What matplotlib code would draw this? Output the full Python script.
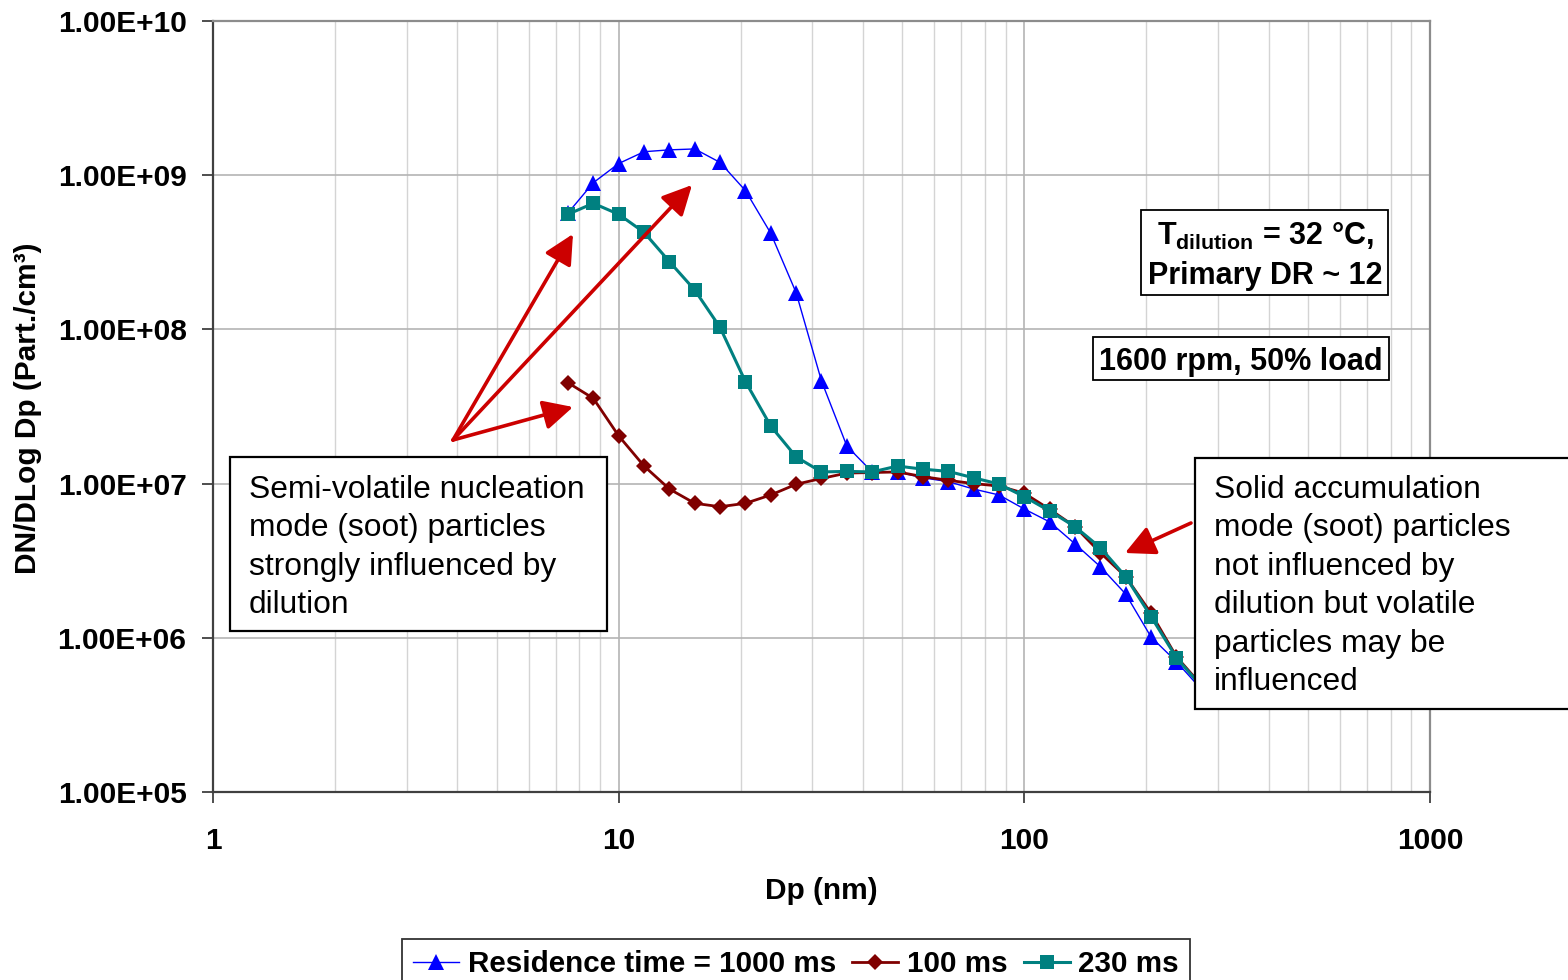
import matplotlib
matplotlib.use("Agg")
import matplotlib.pyplot as plt
from matplotlib.patches import Rectangle
from matplotlib.ticker import FuncFormatter, FixedLocator, NullLocator, LogLocator
from matplotlib.lines import Line2D

plt.rcParams['font.family'] = ['Liberation Sans', 'DejaVu Sans']
plt.rcParams['mathtext.fontset'] = 'custom'
plt.rcParams['mathtext.rm'] = 'Liberation Sans:bold'
plt.rcParams['mathtext.bf'] = 'Liberation Sans:bold'
plt.rcParams['mathtext.default'] = 'rm'

# ---- data ----
dp_nm = [7.50, 8.66, 10.0, 11.55, 13.34, 15.40, 17.78, 20.54, 23.71, 27.38,
         31.62, 36.52, 42.17, 48.70, 56.23, 64.94, 74.99, 86.60, 100.0, 115.5,
         133.4, 154.0, 177.8, 205.4, 237.1, 273.8]

rt_1000ms = [5.69e8, 8.94e8, 1.19e9, 1.42e9, 1.46e9, 1.48e9, 1.21e9, 7.94e8, 4.20e8, 1.73e8,
             4.63e7, 1.75e7, 1.19e7, 1.19e7, 1.09e7, 1.03e7, 9.22e6, 8.44e6, 6.84e6, 5.64e6,
             4.06e6, 2.89e6, 1.92e6, 1.01e6, 7.00e5, 4.60e5]

rt_100ms = [4.51e7, 3.57e7, 2.04e7, 1.30e7, 9.22e6, 7.45e6, 7.08e6, 7.45e6, 8.44e6, 9.90e6,
            1.08e7, 1.17e7, 1.18e7, 1.19e7, 1.11e7, 1.05e7, 1.00e7, 9.65e6, 8.65e6, 6.81e6,
            5.25e6, 3.56e6, 2.49e6, 1.44e6, 7.54e5, 4.90e5]

rt_230ms = [5.58e8, 6.57e8, 5.58e8, 4.26e8, 2.75e8, 1.80e8, 1.03e8, 4.58e7, 2.36e7, 1.49e7,
            1.19e7, 1.20e7, 1.19e7, 1.30e7, 1.24e7, 1.20e7, 1.09e7, 9.94e6, 8.22e6, 6.64e6,
            5.25e6, 3.84e6, 2.49e6, 1.37e6, 7.43e5, 4.80e5]

series_labels = ["Residence time = 1000 ms", "100 ms", "230 ms"]
x_ticks = [1, 10, 100, 1000]
y_ticks = [1e5, 1e6, 1e7, 1e8, 1e9, 1e10]

W, H = 1568, 980
fig = plt.figure(figsize=(W / 100, H / 100), dpi=100)
fig.patch.set_facecolor('white')

def fx(px):
    return px / W

def fy(py):
    return 1 - py / H

ax_l, ax_r, ax_t, ax_b = 213, 1430, 21, 792
ax = fig.add_axes([fx(ax_l), fy(ax_b), fx(ax_r) - fx(ax_l), fy(ax_t) - fy(ax_b)])
ax.set_xscale('log')
ax.set_yscale('log')
ax.set_xlim(1, 1000)
ax.set_ylim(1e5, 1e10)

# grid
ax.xaxis.set_major_locator(FixedLocator(x_ticks))
ax.xaxis.set_minor_locator(LogLocator(base=10, subs=range(2, 10)))
ax.yaxis.set_major_locator(FixedLocator(y_ticks))
ax.yaxis.set_minor_locator(NullLocator())
ax.grid(which='major', axis='both', color='#b4b4b4', lw=1.2)
ax.grid(which='minor', axis='x', color='#d4d4d4', lw=1.0)
ax.set_axisbelow(True)

ax.xaxis.set_major_formatter(FuncFormatter(lambda v, p: f"{v:g}"))
ax.yaxis.set_major_formatter(FuncFormatter(lambda v, p: f"{v:.2E}"))
ax.tick_params(axis='x', which='major', length=8, width=1.3, color='#404040',
               labelsize=21.5, pad=17)
ax.tick_params(axis='y', which='major', length=8, width=1.3, color='#404040',
               labelsize=21.5, pad=11)
ax.tick_params(which='minor', length=0)
for lab in ax.get_xticklabels() + ax.get_yticklabels():
    lab.set_fontweight('bold')

for s in ['left', 'bottom']:
    ax.spines[s].set_color('#404040')
    ax.spines[s].set_linewidth(1.6)
for s in ['top', 'right']:
    ax.spines[s].set_color('#8c8c8c')
    ax.spines[s].set_linewidth(1.6)

ax.set_xlabel("Dp (nm)", fontsize=21.5, fontweight='bold')
ax.xaxis.set_label_coords(0.5, (ax_b - 891) / (ax_b - ax_t))
ax.xaxis.label.set_va('center')
ax.set_ylabel("DN/DLog Dp (Part./cm³)", fontsize=21.5, fontweight='bold')
ax.yaxis.set_label_coords((28 - ax_l) / (ax_r - ax_l), (ax_b - 408) / (ax_b - ax_t))
ax.yaxis.label.set_va('center')

# series
l1, = ax.plot(dp_nm, rt_1000ms, color='#0000ff', lw=1.0, marker='^', ms=11,
              markeredgewidth=0, label=series_labels[0], zorder=3)
l2, = ax.plot(dp_nm, rt_100ms, color='#800000', lw=2.0, marker='D', ms=8.5,
              markeredgewidth=0, label=series_labels[1], zorder=4)
l3, = ax.plot(dp_nm, rt_230ms, color='#008080', lw=2.2, marker='s', ms=10,
              markeredgewidth=0, label=series_labels[2], zorder=5)

# arrows (pixel -> data)
def p2d(px, py):
    x = 10 ** ((px - ax_l) / ((ax_r - ax_l) / 3))
    y = 10 ** (10 - (py - ax_t) / ((ax_b - ax_t) / 5))
    return (x, y)

arrow_kw = dict(arrowstyle='-|>,head_length=0.9,head_width=0.45', color='#cc0000',
                lw=2.6, shrinkA=0, shrinkB=0, mutation_scale=20)
for tgt in [(573, 234), (692, 185), (573, 407)]:
    ax.annotate('', xy=p2d(*tgt), xytext=p2d(453, 440),
                arrowprops=arrow_kw, zorder=6, annotation_clip=False)
ax.annotate('', xy=p2d(1125, 553), xytext=p2d(1191, 523),
            arrowprops=arrow_kw, zorder=6, annotation_clip=False)

# boxes
def box(x0, y0, x1, y1, lw=1.6):
    r = Rectangle((fx(x0), fy(y1)), fx(x1) - fx(x0), fy(y0) - fy(y1),
                  transform=fig.transFigure, facecolor='white', edgecolor='black',
                  lw=lw, zorder=10)
    fig.patches.append(r)

box(230, 457, 607, 631)
left_lines = ["Semi-volatile nucleation", "mode (soot) particles",
              "strongly influenced by", "dilution"]
for i, t in enumerate(left_lines):
    fig.text(fx(249), fy(498 + 38.4 * i), t, fontsize=22.9, va='baseline',
             ha='left', zorder=11)

box(1195, 458, 1575, 709)
right_lines = ["Solid accumulation", "mode (soot) particles", "not influenced by",
               "dilution but volatile", "particles may be", "influenced"]
for i, t in enumerate(right_lines):
    fig.text(fx(1214), fy(498 + 38.4 * i), t, fontsize=22.9, va='baseline',
             ha='left', zorder=11)

box(1141, 210, 1388, 295, lw=1.3)
fig.text(fx(1265), fy(245), r"T$_{dilution}$ = 32 °C,", fontsize=22, fontweight='bold',
         ha='center', va='baseline', zorder=11)
fig.text(fx(1265), fy(284), "Primary DR ~ 12", fontsize=22, fontweight='bold',
         ha='center', va='baseline', zorder=11)

box(1093, 337, 1389, 380, lw=1.3)
fig.text(fx(1241), fy(370), "1600 rpm, 50% load", fontsize=22, fontweight='bold',
         ha='center', va='baseline', zorder=11)

# legend
handles = [Line2D([], [], color='#0000ff', lw=1.0, marker='^', ms=11, markeredgewidth=0),
           Line2D([], [], color='#800000', lw=2.0, marker='D', ms=8.5, markeredgewidth=0),
           Line2D([], [], color='#008080', lw=2.2, marker='s', ms=10, markeredgewidth=0)]
leg = fig.legend(handles, series_labels, loc='upper center',
                 bbox_to_anchor=(fx(796), fy(939)), ncol=3, frameon=True,
                 prop={'family': 'Liberation Sans', 'weight': 'bold', 'size': 21.3},
                 handlelength=1.55, handletextpad=0.3, columnspacing=0.55,
                 borderpad=0.38, borderaxespad=0, fancybox=False)
leg.get_frame().set_edgecolor('black')
leg.get_frame().set_linewidth(1.3)

fig.savefig("out.png", dpi=100, facecolor='white')
